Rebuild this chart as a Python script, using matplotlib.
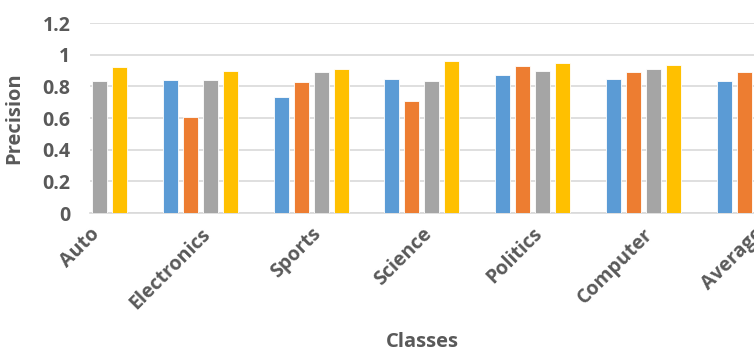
import numpy as np
import matplotlib.pyplot as plt

# precision per class for the four methods
classes = ['Auto', 'Electronics', 'Sports', 'Science', 'Politics', 'Computer', 'Average']
method_1 = [0.84, 0.84, 0.735, 0.845, 0.872, 0.845, 0.836]
method_2 = [0.86, 0.605, 0.826, 0.705, 0.927, 0.89, 0.89]
method_3 = [0.836, 0.84, 0.89, 0.836, 0.90, 0.91, 0.87]
method_4 = [0.92, 0.90, 0.91, 0.962, 0.946, 0.937, 0.93]

colors = ['#5B9BD5', '#ED7D31', '#A5A5A5', '#FFC000']
text_color = '#595959'
plt.rcParams['font.family'] = ['Open Sans', 'DejaVu Sans']

fig = plt.figure(figsize=(7.54, 3.54), dpi=100)
ax = fig.add_axes([0.119, 0.398, 0.881, 0.537])

x = np.arange(len(classes))
step = 0.18
width = 0.135
for i, vals in enumerate([method_1, method_2, method_3, method_4]):
    ax.bar(x + (i - 1.5) * step, vals, width, color=colors[i],
           edgecolor='white', linewidth=0.6, zorder=3)

ax.set_xlim(0.0, 6.0)
ax.set_ylim(0, 1.2)
ax.set_yticks([0, 0.2, 0.4, 0.6, 0.8, 1.0, 1.2])
ax.set_yticklabels(['0', '0.2', '0.4', '0.6', '0.8', '1', '1.2'])
ax.set_xticks(x)
ax.set_xticklabels(classes, rotation=45, ha='right', va='top',
                   rotation_mode='anchor')

ax.grid(axis='y', color='#D9D9D9', linewidth=1.2, zorder=0)
for s in ['top', 'right', 'left']:
    ax.spines[s].set_visible(False)
ax.spines['bottom'].set_color('#D9D9D9')
ax.spines['bottom'].set_linewidth(1.2)
ax.tick_params(axis='both', length=0, colors=text_color, labelsize=14)
ax.tick_params(axis='y', pad=14)
ax.tick_params(axis='x', pad=8)
for lab in ax.get_xticklabels() + ax.get_yticklabels():
    lab.set_fontweight('bold')

ax.set_ylabel('Precision', fontsize=14.5, fontweight='bold', color=text_color)
ax.yaxis.set_label_coords(-0.098, 0.5)
fig.text(0.56, 0.005, 'Classes', fontsize=14.5, fontweight='bold',
         color=text_color, ha='center', va='bottom')

fig.savefig('out.png', dpi=100)
